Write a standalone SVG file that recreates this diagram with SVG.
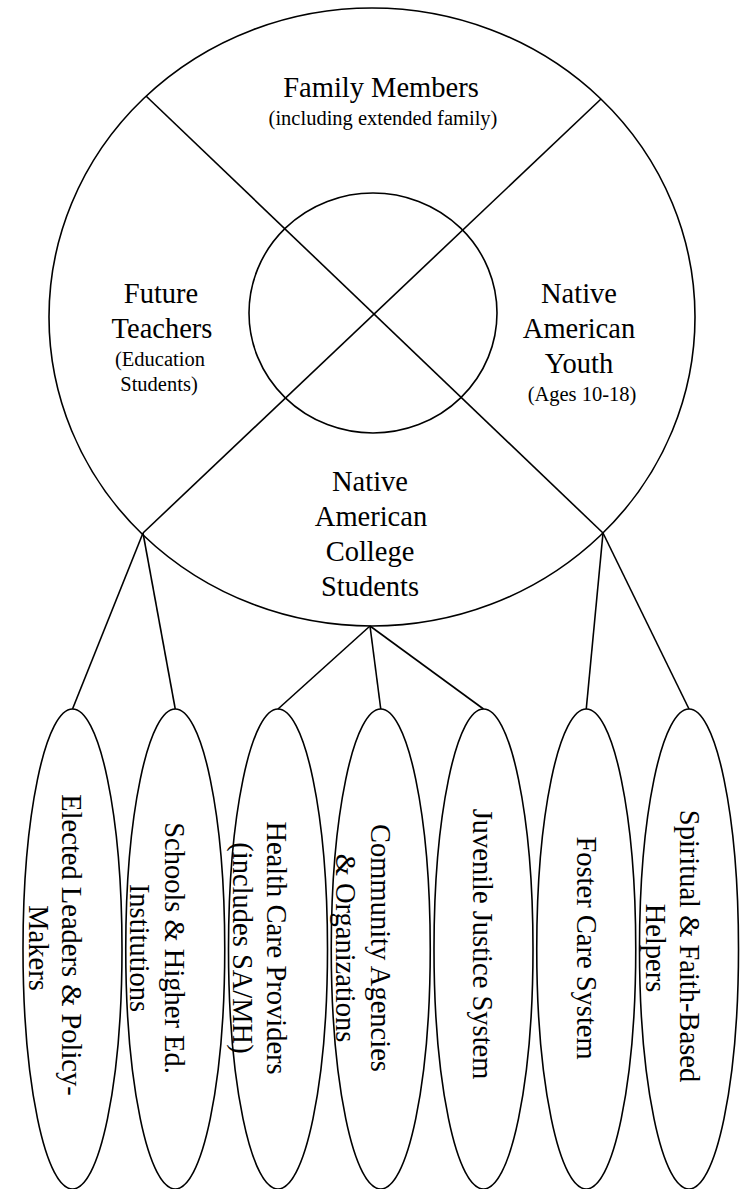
<svg xmlns="http://www.w3.org/2000/svg" width="742" height="1189" viewBox="0 0 742 1189">
  <style>
    .ln { fill: none; stroke: #000; stroke-width: 1.6; }
    .big { font-family: "Liberation Serif", "Times New Roman", serif; font-size: 28.5px; fill: #000; text-anchor: middle; }
    .small { font-family: "Liberation Serif", "Times New Roman", serif; font-size: 20.5px; fill: #000; text-anchor: middle; }
    .rot { font-family: "Liberation Serif", "Times New Roman", serif; font-size: 28.5px; fill: #000; text-anchor: middle; }
  </style>
  <rect width="742" height="1189" fill="#fff"/>

  <g id="wheel">
    <ellipse class="ln" cx="372" cy="317" rx="323" ry="309"/>
    <ellipse class="ln" cx="373" cy="313" rx="124" ry="120"/>
    <line class="ln" x1="146" y1="96" x2="603" y2="533"/>
    <line class="ln" x1="601" y1="99" x2="143" y2="533"/>
  </g>

  <g id="family-members">
    <text class="big" x="381" y="97">Family Members</text>
    <text class="small" x="383" y="125">(including extended family)</text>
  </g>
  <g id="future-teachers">
    <text class="big" x="161" y="303">Future</text>
    <text class="big" x="162" y="338">Teachers</text>
    <text class="small" x="160" y="366">(Education</text>
    <text class="small" x="159" y="391">Students)</text>
  </g>
  <g id="native-youth">
    <text class="big" x="579" y="303">Native</text>
    <text class="big" x="579" y="338">American</text>
    <text class="big" x="579" y="373">Youth</text>
    <text class="small" x="582" y="401">(Ages 10-18)</text>
  </g>
  <g id="native-college">
    <text class="big" x="370" y="491">Native</text>
    <text class="big" x="371" y="526">American</text>
    <text class="big" x="370" y="561">College</text>
    <text class="big" x="370" y="596">Students</text>
  </g>

  <g id="connectors">
    <line class="ln" x1="143" y1="533" x2="72.5" y2="709"/>
    <line class="ln" x1="143" y1="533" x2="175.25" y2="709"/>
    <line class="ln" x1="370" y1="626" x2="278" y2="709"/>
    <line class="ln" x1="370" y1="626" x2="380.75" y2="709"/>
    <line class="ln" x1="370" y1="626" x2="483.5" y2="709"/>
    <line class="ln" x1="603" y1="533" x2="586.25" y2="709"/>
    <line class="ln" x1="603" y1="533" x2="689" y2="709"/>
  </g>

  <g id="elected-leaders">
    <ellipse class="ln" cx="72.5" cy="949" rx="49.5" ry="240"/>
    <text class="rot" transform="translate(62,945) rotate(90)">Elected Leaders &amp; Policy-</text>
    <text class="rot" transform="translate(29,948) rotate(90)">Makers</text>
  </g>
  <g id="schools">
    <ellipse class="ln" cx="175.25" cy="949" rx="49.5" ry="240"/>
    <text class="rot" transform="translate(165,948) rotate(90)">Schools &amp; Higher Ed.</text>
    <text class="rot" transform="translate(130,948) rotate(90)">Institutions</text>
  </g>
  <g id="health-care">
    <ellipse class="ln" cx="278" cy="949" rx="49.5" ry="240"/>
    <text class="rot" transform="translate(267,948) rotate(90)">Health Care Providers</text>
    <text class="rot" transform="translate(233,948) rotate(90)">(includes SA/MH)</text>
  </g>
  <g id="community-agencies">
    <ellipse class="ln" cx="380.75" cy="949" rx="49.5" ry="240"/>
    <text class="rot" transform="translate(371,948) rotate(90)">Community Agencies</text>
    <text class="rot" transform="translate(336,948) rotate(90)">&amp; Organizations</text>
  </g>
  <g id="juvenile-justice">
    <ellipse class="ln" cx="483.5" cy="949" rx="49.5" ry="240"/>
    <text class="rot" transform="translate(473,944) rotate(90)">Juvenile Justice System</text>
  </g>
  <g id="foster-care">
    <ellipse class="ln" cx="586.25" cy="949" rx="49.5" ry="240"/>
    <text class="rot" transform="translate(577,948) rotate(90)">Foster Care System</text>
  </g>
  <g id="spiritual-helpers">
    <ellipse class="ln" cx="689" cy="949" rx="49.5" ry="240"/>
    <text class="rot" transform="translate(680,946) rotate(90)">Spiritual &amp; Faith-Based</text>
    <text class="rot" transform="translate(646,948) rotate(90)">Helpers</text>
  </g>
</svg>
